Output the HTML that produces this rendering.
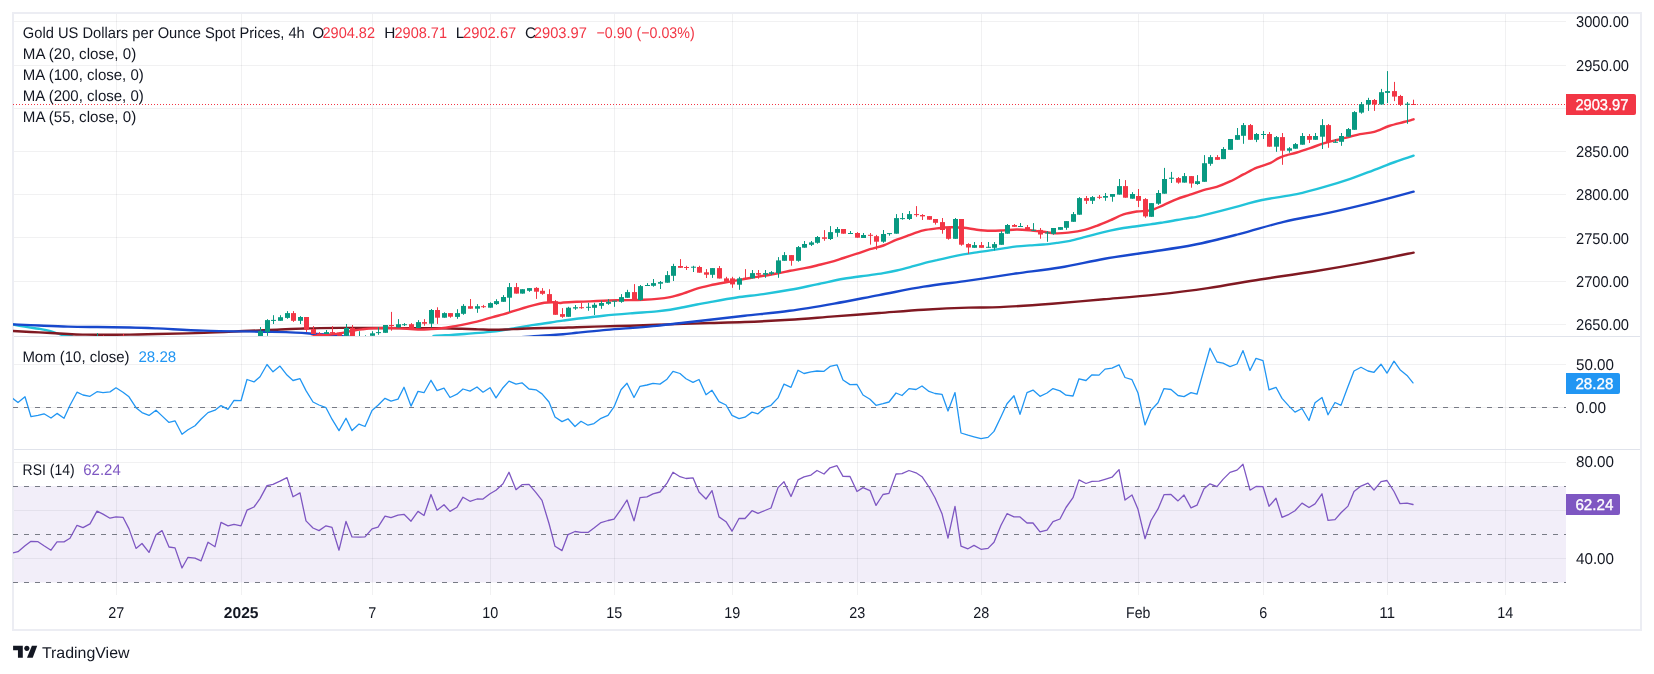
<!DOCTYPE html>
<html><head><meta charset="utf-8"><title>Gold 4h</title>
<style>html,body{margin:0;padding:0;background:#fff;}body{width:1654px;height:674px;overflow:hidden;font-family:"Liberation Sans", sans-serif;}svg{display:block;font-family:"Liberation Sans", sans-serif;will-change:transform;}text{font-family:"Liberation Sans", sans-serif;text-rendering:geometricPrecision;}</style>
</head><body>
<svg width="1654" height="674" viewBox="0 0 1654 674">
<rect x="0" y="0" width="1654" height="674" fill="#ffffff"/>
<defs>
<clipPath id="cp1"><rect x="13" y="14" width="1553" height="322"/></clipPath>
<clipPath id="cp2"><rect x="13" y="336.5" width="1553" height="112.5"/></clipPath>
<clipPath id="cp3"><rect x="13" y="450" width="1553" height="145.5"/></clipPath>
</defs>
<rect x="14" y="486" width="1552" height="96.5" fill="#7e57c2" fill-opacity="0.1"/>
<g stroke="rgb(42,46,57)" stroke-opacity="0.065" stroke-width="1" shape-rendering="crispEdges">
<line x1="116.5" y1="14" x2="116.5" y2="595"/>
<line x1="241.5" y1="14" x2="241.5" y2="595"/>
<line x1="372.5" y1="14" x2="372.5" y2="595"/>
<line x1="490.5" y1="14" x2="490.5" y2="595"/>
<line x1="614.5" y1="14" x2="614.5" y2="595"/>
<line x1="732.5" y1="14" x2="732.5" y2="595"/>
<line x1="857.5" y1="14" x2="857.5" y2="595"/>
<line x1="981.5" y1="14" x2="981.5" y2="595"/>
<line x1="1138.5" y1="14" x2="1138.5" y2="595"/>
<line x1="1263.5" y1="14" x2="1263.5" y2="595"/>
<line x1="1387.5" y1="14" x2="1387.5" y2="595"/>
<line x1="1505.5" y1="14" x2="1505.5" y2="595"/>
<line x1="14" y1="21.5" x2="1566" y2="21.5"/>
<line x1="14" y1="65.5" x2="1566" y2="65.5"/>
<line x1="14" y1="108.5" x2="1566" y2="108.5"/>
<line x1="14" y1="151.5" x2="1566" y2="151.5"/>
<line x1="14" y1="194.5" x2="1566" y2="194.5"/>
<line x1="14" y1="237.5" x2="1566" y2="237.5"/>
<line x1="14" y1="281.5" x2="1566" y2="281.5"/>
<line x1="14" y1="324.5" x2="1566" y2="324.5"/>
<line x1="14" y1="364.5" x2="1566" y2="364.5"/>
<line x1="14" y1="407.5" x2="1566" y2="407.5"/>
<line x1="14" y1="462.5" x2="1566" y2="462.5"/>
<line x1="14" y1="510.5" x2="1566" y2="510.5"/>
<line x1="14" y1="558.5" x2="1566" y2="558.5"/>
</g>
<g stroke="#e0e3eb" fill="none" shape-rendering="crispEdges">
<line x1="13" y1="336.5" x2="1641" y2="336.5" stroke-width="1"/>
<line x1="13" y1="449.5" x2="1641" y2="449.5" stroke-width="1"/>
<rect x="13" y="13" width="1628" height="617" stroke-width="2" stroke="#ecedf3"/>
</g>
<g clip-path="url(#cp1)">
<line x1="13" y1="104.5" x2="1566" y2="104.5" stroke="#f23645" stroke-width="1" stroke-dasharray="1 2" shape-rendering="crispEdges"/>
<path d="M13,324.4 C14.9,324.8 20.2,325.9 24.5,326.6 C28.8,327.3 35.4,328.2 39.0,328.8 C42.6,329.4 43.9,329.6 46.3,330.2 C48.7,330.8 51.1,331.4 53.5,332.1 C55.9,332.8 58.4,334.0 60.8,334.6 C63.2,335.2 66.1,335.4 68.0,335.7 C69.9,336.0 70.4,336.1 72.4,336.4 C74.4,336.7 58.7,336.2 80.0,337.6 C101.3,339.0 143.3,344.6 200.0,345.0 C256.7,345.4 381.0,341.5 420.0,340.0 C459.0,338.5 428.7,336.9 434.0,336.0 C439.3,335.1 445.3,335.3 451.7,334.9 C458.1,334.5 465.3,333.9 472.2,333.4 C479.1,332.8 486.0,332.4 492.8,331.6 C499.6,330.8 506.4,329.6 513.3,328.5 C520.1,327.4 527.0,326.0 533.9,324.9 C540.8,323.8 549.6,322.6 554.5,321.9 C559.4,321.2 559.3,321.1 563.0,320.6 C566.7,320.1 570.0,319.6 576.7,318.8 C583.4,318.0 594.5,316.6 603.4,315.7 C612.3,314.8 621.2,314.1 630.1,313.4 C639.0,312.7 650.1,312.0 656.8,311.4 C663.5,310.8 665.8,310.5 670.2,309.8 C674.7,309.1 679.0,308.1 683.5,307.2 C688.0,306.3 692.5,305.4 696.9,304.5 C701.3,303.6 703.4,303.3 710.0,302.1 C716.6,300.9 727.8,298.8 736.7,297.5 C745.6,296.2 754.5,295.4 763.4,294.1 C772.3,292.8 781.2,291.4 790.1,289.8 C799.0,288.2 807.9,286.2 816.8,284.4 C825.7,282.6 834.6,280.4 843.5,278.8 C852.4,277.2 863.4,276.1 870.0,275.1 C876.6,274.2 878.9,273.9 883.4,273.1 C887.9,272.3 892.2,271.5 896.7,270.5 C901.2,269.5 905.7,268.3 910.1,267.1 C914.5,265.9 919.0,264.5 923.4,263.4 C927.8,262.2 932.3,261.2 936.8,260.2 C941.2,259.1 945.6,258.1 950.1,257.1 C954.6,256.1 959.0,255.2 963.5,254.4 C968.0,253.6 972.3,253.1 976.8,252.4 C981.2,251.7 985.8,251.1 990.2,250.4 C994.7,249.7 999.0,249.1 1003.5,248.4 C1008.0,247.7 1012.5,246.9 1016.9,246.4 C1021.3,245.9 1025.6,245.7 1030.0,245.4 C1034.4,245.1 1039.0,244.9 1043.4,244.5 C1047.9,244.1 1052.2,243.5 1056.7,242.9 C1061.2,242.3 1065.6,241.8 1070.1,240.9 C1074.5,240.0 1079.0,238.6 1083.4,237.4 C1087.9,236.2 1092.3,234.9 1096.8,233.8 C1101.2,232.7 1105.6,231.7 1110.1,230.7 C1114.5,229.7 1119.0,228.8 1123.5,228.0 C1128.0,227.2 1132.3,226.8 1136.8,226.2 C1141.2,225.6 1145.8,225.0 1150.2,224.4 C1154.7,223.8 1159.0,223.1 1163.5,222.4 C1168.0,221.7 1172.5,220.8 1176.9,220.0 C1181.4,219.2 1186.4,218.5 1190.2,217.8 C1194.0,217.2 1191.9,218.1 1200.0,216.1 C1208.1,214.1 1228.7,208.8 1239.0,206.1 C1249.3,203.4 1252.4,202.0 1262.0,200.0 C1271.6,198.0 1286.5,196.2 1296.8,194.1 C1307.0,192.0 1314.6,189.8 1323.5,187.2 C1332.4,184.6 1342.0,181.6 1350.3,178.8 C1358.6,176.0 1365.8,173.1 1373.2,170.3 C1380.7,167.5 1388.3,164.4 1395.0,162.0 C1401.7,159.6 1410.5,156.8 1413.6,155.7" fill="none" stroke="#22c3d9" stroke-width="2.4" stroke-linecap="round" stroke-linejoin="round"/>
<path d="M13,331 C17.3,331.2 29.8,331.9 39.0,332.4 C48.2,332.9 60.7,333.6 68.0,334.0 C75.3,334.4 77.8,334.5 82.6,334.6 C87.4,334.7 89.1,334.8 97.0,334.8 C104.9,334.8 120.0,334.7 130.0,334.6 C140.0,334.5 144.7,334.3 157.0,334.0 C169.3,333.7 188.5,333.4 204.0,332.9 C219.5,332.4 237.8,331.3 250.0,330.8 C262.2,330.3 268.0,330.1 277.0,329.7 C286.0,329.3 293.4,328.8 304.0,328.5 C314.6,328.2 329.3,328.0 340.7,327.9 C352.1,327.8 362.5,328.0 372.4,328.0 C382.3,328.0 388.5,328.1 400.0,328.1 C411.5,328.2 431.1,328.2 441.4,328.3 C451.7,328.4 455.9,328.6 462.0,328.8 C468.1,329.0 472.9,329.2 478.0,329.4 C483.1,329.5 488.3,329.7 492.8,329.7 C497.3,329.7 501.6,329.6 505.0,329.5 C508.4,329.4 508.5,329.3 513.3,329.1 C518.1,328.9 526.1,328.5 533.9,328.3 C541.7,328.1 552.9,328.0 560.0,327.8 C567.1,327.6 569.5,327.4 576.7,327.2 C583.9,327.0 594.5,326.6 603.4,326.4 C612.3,326.1 621.2,326.0 630.1,325.7 C639.0,325.4 647.9,325.1 656.8,324.8 C665.7,324.5 674.6,324.2 683.5,323.9 C692.4,323.6 699.8,323.3 710.0,323.0 C720.2,322.7 731.5,322.5 744.7,322.0 C758.0,321.5 774.6,320.7 789.5,319.8 C804.4,318.9 819.3,317.5 834.2,316.4 C849.1,315.3 864.1,314.1 879.0,313.0 C893.9,311.9 908.8,310.6 923.7,309.7 C938.6,308.8 955.8,308.0 968.5,307.6 C981.2,307.2 986.1,307.8 1000.0,307.1 C1013.9,306.5 1034.7,305.0 1052.0,303.7 C1069.3,302.4 1086.7,300.8 1104.0,299.3 C1121.3,297.8 1138.7,296.5 1156.0,294.6 C1173.3,292.7 1190.7,290.6 1208.0,288.1 C1225.3,285.6 1242.7,282.2 1260.0,279.5 C1277.3,276.8 1294.7,274.5 1312.0,271.7 C1329.3,268.9 1347.1,265.8 1364.0,262.6 C1380.9,259.4 1405.3,254.3 1413.6,252.6" fill="none" stroke="#801922" stroke-width="2.4" stroke-linecap="round" stroke-linejoin="round"/>
<path d="M13,324.4 C17.3,324.6 29.8,325.1 39.0,325.5 C48.2,325.9 58.3,326.4 68.0,326.6 C77.7,326.9 86.7,326.9 97.0,327.0 C107.3,327.1 120.0,327.3 130.0,327.5 C140.0,327.7 144.7,327.9 157.0,328.4 C169.3,328.9 186.8,330.1 204.0,330.6 C221.2,331.2 246.3,331.4 260.0,331.7 C273.7,331.9 277.1,331.8 286.0,332.1 C294.9,332.4 305.9,333.2 313.5,333.7 C321.1,334.2 327.1,334.6 331.6,334.9 C336.1,335.2 337.3,335.1 340.7,335.5 C344.1,335.9 335.4,336.1 352.0,337.0 C368.6,337.9 415.3,340.7 440.0,341.0 C464.7,341.3 486.7,339.6 500.0,339.0 C513.3,338.4 514.3,337.8 520.0,337.3 C525.7,336.8 529.0,336.6 534.0,336.2 C539.0,335.8 545.2,335.5 550.0,335.2 C554.8,334.9 558.5,334.6 563.0,334.2 C567.5,333.8 570.0,333.5 576.7,332.8 C583.4,332.1 594.5,330.9 603.4,330.1 C612.3,329.3 621.2,328.8 630.1,328.1 C639.0,327.4 647.9,326.8 656.8,325.9 C665.7,325.0 674.6,323.8 683.5,322.8 C692.4,321.8 699.8,321.0 710.0,319.8 C720.2,318.6 731.5,317.2 744.7,315.7 C758.0,314.2 774.6,312.8 789.5,310.8 C804.4,308.8 819.3,306.2 834.2,303.6 C849.1,301.0 864.1,297.9 879.0,295.1 C893.9,292.3 908.8,289.0 923.7,286.6 C938.6,284.2 953.6,282.7 968.5,280.6 C983.4,278.5 998.0,276.1 1013.2,273.9 C1028.5,271.7 1044.8,270.0 1060.0,267.5 C1075.2,265.0 1089.8,261.3 1104.7,258.7 C1119.6,256.1 1134.6,254.3 1149.5,252.0 C1164.4,249.7 1179.3,247.8 1194.2,244.8 C1209.1,241.8 1224.1,237.9 1239.0,234.1 C1253.9,230.3 1268.8,225.4 1283.7,221.8 C1298.6,218.2 1313.6,216.1 1328.5,212.8 C1343.4,209.6 1359.0,205.8 1373.2,202.3 C1387.4,198.8 1406.9,193.4 1413.6,191.6" fill="none" stroke="#1848cc" stroke-width="2.4" stroke-linecap="round" stroke-linejoin="round"/>
<path d="M308,338 C309.3,337.6 313.3,336.1 316.0,335.6 C318.7,335.1 321.3,335.4 324.0,335.2 C326.7,335.0 328.9,334.8 332.0,334.4 C335.1,334.0 339.0,333.5 342.5,332.9 C346.0,332.3 349.6,331.4 352.8,330.8 C356.1,330.2 358.6,329.8 362.0,329.4 C365.4,329.0 368.5,328.6 373.0,328.4 C377.5,328.2 384.5,328.0 389.0,328.0 C393.5,328.0 396.4,328.2 400.0,328.4 C403.6,328.6 407.1,328.8 410.6,329.0 C414.1,329.2 417.4,329.6 420.8,329.6 C424.2,329.6 427.7,329.3 431.1,329.1 C434.5,328.9 438.0,328.7 441.4,328.3 C444.8,327.9 448.3,327.3 451.7,326.7 C455.1,326.1 458.6,325.6 462.0,324.9 C465.4,324.2 468.8,323.5 472.2,322.7 C475.6,321.9 479.1,321.0 482.5,320.1 C485.9,319.2 489.4,318.2 492.8,317.2 C496.2,316.2 499.7,315.3 503.1,314.3 C506.5,313.3 509.9,312.2 513.3,311.1 C516.7,310.1 520.2,309.0 523.6,308.0 C527.0,307.0 530.5,306.0 533.9,305.1 C537.3,304.2 541.2,303.3 544.2,302.8 C547.2,302.3 549.4,302.2 552.0,302.2 C554.6,302.2 558.1,302.9 560.0,303.0 C561.9,303.1 560.6,302.7 563.4,302.5 C566.2,302.3 572.2,302.0 576.7,301.8 C581.2,301.6 585.7,301.6 590.1,301.4 C594.5,301.2 599.0,300.9 603.4,300.7 C607.8,300.5 612.3,300.4 616.8,300.3 C621.2,300.2 625.6,300.2 630.1,300.1 C634.6,300.0 639.0,299.9 643.5,299.7 C648.0,299.5 652.3,299.3 656.8,298.9 C661.2,298.5 665.8,298.0 670.2,297.1 C674.7,296.2 679.0,294.8 683.5,293.4 C688.0,292.0 692.5,290.0 696.9,288.7 C701.3,287.4 705.6,286.4 710.0,285.4 C714.4,284.4 718.9,283.6 723.4,282.8 C727.9,282.0 732.2,281.2 736.7,280.4 C741.2,279.6 745.7,278.8 750.1,278.0 C754.5,277.2 759.0,276.6 763.4,275.8 C767.8,275.1 772.3,274.3 776.8,273.5 C781.2,272.7 785.6,271.7 790.1,270.8 C794.6,269.9 799.0,269.3 803.5,268.4 C808.0,267.5 812.3,266.6 816.8,265.5 C821.2,264.4 825.8,263.4 830.2,262.1 C834.7,260.9 839.0,259.4 843.5,258.0 C848.0,256.6 852.5,255.2 856.9,253.7 C861.3,252.2 865.6,250.6 870.0,249.2 C874.4,247.8 878.9,247.1 883.4,245.5 C887.9,243.9 892.2,241.5 896.7,239.7 C901.2,237.9 905.7,236.4 910.1,234.8 C914.5,233.2 919.0,231.5 923.4,230.4 C927.8,229.3 932.3,228.9 936.8,228.4 C941.2,227.9 945.6,227.4 950.1,227.3 C954.6,227.2 959.0,227.3 963.5,227.7 C968.0,228.1 972.3,229.2 976.8,229.7 C981.2,230.2 985.8,230.7 990.2,230.8 C994.7,230.9 999.0,230.6 1003.5,230.4 C1008.0,230.2 1012.5,229.5 1016.9,229.5 C1021.3,229.5 1025.6,229.9 1030.0,230.3 C1034.4,230.7 1039.0,231.3 1043.4,231.8 C1047.9,232.3 1052.2,233.3 1056.7,233.4 C1061.2,233.5 1065.6,232.9 1070.1,232.4 C1074.5,231.9 1079.0,231.3 1083.4,230.2 C1087.9,229.1 1092.3,227.4 1096.8,225.8 C1101.2,224.2 1105.6,222.3 1110.1,220.4 C1114.5,218.5 1119.0,215.9 1123.5,214.4 C1128.0,212.9 1132.3,212.2 1136.8,211.5 C1141.2,210.8 1145.8,211.5 1150.2,210.4 C1154.7,209.3 1159.0,207.0 1163.5,205.1 C1168.0,203.2 1172.5,200.8 1176.9,199.1 C1181.3,197.4 1185.6,196.2 1190.0,194.7 C1194.4,193.2 1199.0,191.4 1203.4,190.1 C1207.9,188.8 1212.2,188.2 1216.7,186.8 C1221.2,185.4 1225.6,183.5 1230.1,181.4 C1234.5,179.3 1239.0,176.7 1243.4,174.4 C1247.9,172.1 1252.3,169.6 1256.8,167.7 C1261.2,165.8 1266.8,164.6 1270.1,163.2 C1273.4,161.8 1274.6,160.3 1276.8,159.1 C1279.0,157.9 1280.2,157.2 1283.5,156.1 C1286.8,155.0 1292.3,153.8 1296.8,152.5 C1301.2,151.2 1305.8,149.6 1310.2,148.1 C1314.7,146.6 1319.0,144.8 1323.5,143.4 C1328.0,142.1 1332.4,141.1 1336.9,140.0 C1341.4,138.9 1346.5,137.7 1350.3,136.7 C1354.1,135.7 1356.0,134.9 1360.0,134.1 C1364.0,133.3 1369.4,133.2 1374.2,131.9 C1379.0,130.6 1384.1,127.7 1389.0,126.0 C1393.9,124.3 1399.7,123.1 1403.8,122.0 C1407.9,120.9 1412.0,119.8 1413.6,119.3" fill="none" stroke="#f23645" stroke-width="2.4" stroke-linecap="round" stroke-linejoin="round"/>
<rect x="97" y="333.1" width="1" height="4.9" fill="#089981"/>
<rect x="95" y="337.0" width="5" height="1.0" fill="#089981"/>
<rect x="103" y="335.3" width="1" height="2.7" fill="#f23645"/>
<rect x="101" y="337.0" width="5" height="1.0" fill="#f23645"/>
<rect x="123" y="334.0" width="1" height="4.0" fill="#f23645"/>
<rect x="121" y="337.0" width="5" height="1.0" fill="#f23645"/>
<rect x="260" y="327.1" width="1" height="9.9" fill="#089981"/>
<rect x="258" y="331.2" width="5" height="5.8" fill="#089981"/>
<rect x="267" y="319.2" width="1" height="16.6" fill="#089981"/>
<rect x="265" y="320.1" width="5" height="11.8" fill="#089981"/>
<rect x="273" y="315.2" width="1" height="8.8" fill="#089981"/>
<rect x="271" y="319.9" width="5" height="1.0" fill="#089981"/>
<rect x="280" y="315.2" width="1" height="5.6" fill="#089981"/>
<rect x="278" y="317.2" width="5" height="3.6" fill="#089981"/>
<rect x="287" y="311.1" width="1" height="7.7" fill="#089981"/>
<rect x="285" y="313.1" width="5" height="4.8" fill="#089981"/>
<rect x="293" y="311.1" width="1" height="10.8" fill="#f23645"/>
<rect x="291" y="313.1" width="5" height="7.7" fill="#f23645"/>
<rect x="300" y="316.1" width="1" height="7.9" fill="#089981"/>
<rect x="298" y="317.0" width="5" height="3.8" fill="#089981"/>
<rect x="306" y="317.0" width="1" height="14.9" fill="#f23645"/>
<rect x="304" y="317.0" width="5" height="12.7" fill="#f23645"/>
<rect x="313" y="326.1" width="1" height="7.9" fill="#f23645"/>
<rect x="311" y="329.0" width="5" height="5.0" fill="#f23645"/>
<rect x="319" y="332.1" width="1" height="3.4" fill="#f23645"/>
<rect x="317" y="333.5" width="5" height="2.0" fill="#f23645"/>
<rect x="326" y="330.0" width="1" height="4.0" fill="#089981"/>
<rect x="324" y="332.1" width="5" height="1.9" fill="#089981"/>
<rect x="332" y="326.1" width="1" height="8.9" fill="#f23645"/>
<rect x="330" y="332.1" width="5" height="1.4" fill="#f23645"/>
<rect x="339" y="332.6" width="1" height="3.2" fill="#f23645"/>
<rect x="337" y="332.6" width="5" height="3.2" fill="#f23645"/>
<rect x="346" y="324.0" width="1" height="11.8" fill="#089981"/>
<rect x="344" y="328.0" width="5" height="7.8" fill="#089981"/>
<rect x="352" y="325.0" width="1" height="11.2" fill="#f23645"/>
<rect x="350" y="328.0" width="5" height="8.2" fill="#f23645"/>
<rect x="359" y="331.2" width="1" height="6.8" fill="#089981"/>
<rect x="357" y="336.5" width="5" height="1.5" fill="#089981"/>
<rect x="365" y="335.3" width="1" height="2.7" fill="#089981"/>
<rect x="363" y="336.5" width="5" height="1.5" fill="#089981"/>
<rect x="372" y="331.2" width="1" height="4.6" fill="#089981"/>
<rect x="370" y="333.3" width="5" height="2.5" fill="#089981"/>
<rect x="378" y="327.1" width="1" height="7.7" fill="#089981"/>
<rect x="376" y="332.1" width="5" height="1.0" fill="#089981"/>
<rect x="385" y="325.0" width="1" height="7.8" fill="#089981"/>
<rect x="383" y="325.0" width="5" height="7.8" fill="#089981"/>
<rect x="391" y="311.9" width="1" height="18.8" fill="#f23645"/>
<rect x="389" y="325.0" width="5" height="1.0" fill="#f23645"/>
<rect x="398" y="319.1" width="1" height="8.3" fill="#089981"/>
<rect x="396" y="324.2" width="5" height="3.2" fill="#089981"/>
<rect x="404" y="323.1" width="1" height="2.9" fill="#089981"/>
<rect x="402" y="324.2" width="5" height="1.0" fill="#089981"/>
<rect x="411" y="323.1" width="1" height="5.2" fill="#f23645"/>
<rect x="409" y="324.2" width="5" height="4.1" fill="#f23645"/>
<rect x="418" y="320.1" width="1" height="7.9" fill="#089981"/>
<rect x="416" y="322.1" width="5" height="5.9" fill="#089981"/>
<rect x="424" y="319.1" width="1" height="6.6" fill="#f23645"/>
<rect x="422" y="322.1" width="5" height="1.6" fill="#f23645"/>
<rect x="431" y="309.0" width="1" height="18.5" fill="#089981"/>
<rect x="429" y="310.0" width="5" height="13.7" fill="#089981"/>
<rect x="437" y="307.3" width="1" height="16.6" fill="#f23645"/>
<rect x="435" y="310.0" width="5" height="7.7" fill="#f23645"/>
<rect x="444" y="312.3" width="1" height="5.4" fill="#089981"/>
<rect x="442" y="313.1" width="5" height="4.6" fill="#089981"/>
<rect x="450" y="313.1" width="1" height="4.6" fill="#f23645"/>
<rect x="448" y="313.1" width="5" height="3.6" fill="#f23645"/>
<rect x="457" y="309.2" width="1" height="9.6" fill="#089981"/>
<rect x="455" y="313.1" width="5" height="3.8" fill="#089981"/>
<rect x="463" y="304.1" width="1" height="10.7" fill="#089981"/>
<rect x="461" y="305.9" width="5" height="7.9" fill="#089981"/>
<rect x="470" y="299.0" width="1" height="9.7" fill="#f23645"/>
<rect x="468" y="306.2" width="5" height="2.5" fill="#f23645"/>
<rect x="477" y="304.1" width="1" height="8.7" fill="#089981"/>
<rect x="475" y="306.2" width="5" height="2.5" fill="#089981"/>
<rect x="483" y="304.9" width="1" height="3.1" fill="#f23645"/>
<rect x="481" y="306.2" width="5" height="1.0" fill="#f23645"/>
<rect x="490" y="302.3" width="1" height="5.4" fill="#089981"/>
<rect x="488" y="303.1" width="5" height="4.6" fill="#089981"/>
<rect x="496" y="299.2" width="1" height="5.7" fill="#089981"/>
<rect x="494" y="301.1" width="5" height="3.0" fill="#089981"/>
<rect x="503" y="295.1" width="1" height="6.7" fill="#089981"/>
<rect x="501" y="297.0" width="5" height="4.8" fill="#089981"/>
<rect x="509" y="283.0" width="1" height="28.9" fill="#089981"/>
<rect x="507" y="287.1" width="5" height="10.6" fill="#089981"/>
<rect x="516" y="283.0" width="1" height="10.6" fill="#f23645"/>
<rect x="514" y="287.1" width="5" height="6.5" fill="#f23645"/>
<rect x="522" y="289.2" width="1" height="4.4" fill="#089981"/>
<rect x="520" y="289.2" width="5" height="4.4" fill="#089981"/>
<rect x="529" y="288.1" width="1" height="3.7" fill="#089981"/>
<rect x="527" y="288.1" width="5" height="2.7" fill="#089981"/>
<rect x="536" y="287.1" width="1" height="11.8" fill="#f23645"/>
<rect x="534" y="287.9" width="5" height="3.8" fill="#f23645"/>
<rect x="542" y="288.1" width="1" height="6.7" fill="#f23645"/>
<rect x="540" y="290.8" width="5" height="3.0" fill="#f23645"/>
<rect x="549" y="289.2" width="1" height="13.1" fill="#f23645"/>
<rect x="547" y="294.1" width="5" height="8.2" fill="#f23645"/>
<rect x="555" y="300.1" width="1" height="14.7" fill="#f23645"/>
<rect x="553" y="301.3" width="5" height="13.5" fill="#f23645"/>
<rect x="562" y="308.1" width="1" height="9.7" fill="#f23645"/>
<rect x="560" y="314.1" width="5" height="2.7" fill="#f23645"/>
<rect x="568" y="306.8" width="1" height="10.0" fill="#089981"/>
<rect x="566" y="307.7" width="5" height="9.1" fill="#089981"/>
<rect x="575" y="305.0" width="1" height="4.8" fill="#089981"/>
<rect x="573" y="307.2" width="5" height="1.3" fill="#089981"/>
<rect x="581" y="302.8" width="1" height="6.0" fill="#f23645"/>
<rect x="579" y="307.2" width="5" height="1.0" fill="#f23645"/>
<rect x="588" y="302.8" width="1" height="8.0" fill="#089981"/>
<rect x="586" y="306.8" width="5" height="1.0" fill="#089981"/>
<rect x="594" y="302.8" width="1" height="12.2" fill="#089981"/>
<rect x="592" y="304.8" width="5" height="3.0" fill="#089981"/>
<rect x="601" y="300.7" width="1" height="8.1" fill="#089981"/>
<rect x="599" y="303.0" width="5" height="2.8" fill="#089981"/>
<rect x="608" y="299.1" width="1" height="5.7" fill="#089981"/>
<rect x="606" y="301.8" width="5" height="2.0" fill="#089981"/>
<rect x="614" y="300.7" width="1" height="6.1" fill="#089981"/>
<rect x="612" y="300.7" width="5" height="1.0" fill="#089981"/>
<rect x="621" y="294.1" width="1" height="8.7" fill="#089981"/>
<rect x="619" y="297.1" width="5" height="4.7" fill="#089981"/>
<rect x="627" y="289.8" width="1" height="8.0" fill="#089981"/>
<rect x="625" y="292.1" width="5" height="5.7" fill="#089981"/>
<rect x="634" y="284.1" width="1" height="16.0" fill="#f23645"/>
<rect x="632" y="292.1" width="5" height="8.0" fill="#f23645"/>
<rect x="640" y="285.0" width="1" height="15.7" fill="#089981"/>
<rect x="638" y="286.1" width="5" height="14.0" fill="#089981"/>
<rect x="647" y="283.1" width="1" height="2.8" fill="#089981"/>
<rect x="645" y="285.0" width="5" height="1.0" fill="#089981"/>
<rect x="653" y="279.0" width="1" height="7.7" fill="#089981"/>
<rect x="651" y="283.1" width="5" height="2.7" fill="#089981"/>
<rect x="660" y="281.0" width="1" height="8.0" fill="#089981"/>
<rect x="658" y="282.1" width="5" height="1.6" fill="#089981"/>
<rect x="667" y="271.1" width="1" height="11.6" fill="#089981"/>
<rect x="665" y="275.1" width="5" height="7.6" fill="#089981"/>
<rect x="673" y="263.8" width="1" height="17.2" fill="#089981"/>
<rect x="671" y="266.0" width="5" height="9.8" fill="#089981"/>
<rect x="680" y="259.1" width="1" height="8.7" fill="#f23645"/>
<rect x="678" y="266.0" width="5" height="1.8" fill="#f23645"/>
<rect x="686" y="265.8" width="1" height="4.2" fill="#f23645"/>
<rect x="684" y="267.0" width="5" height="1.0" fill="#f23645"/>
<rect x="693" y="265.8" width="1" height="6.2" fill="#089981"/>
<rect x="691" y="266.7" width="5" height="1.0" fill="#089981"/>
<rect x="699" y="265.8" width="1" height="6.9" fill="#f23645"/>
<rect x="697" y="267.0" width="5" height="5.7" fill="#f23645"/>
<rect x="706" y="269.1" width="1" height="8.9" fill="#f23645"/>
<rect x="704" y="272.3" width="5" height="2.4" fill="#f23645"/>
<rect x="712" y="268.1" width="1" height="9.8" fill="#089981"/>
<rect x="710" y="268.1" width="5" height="6.7" fill="#089981"/>
<rect x="719" y="266.0" width="1" height="12.5" fill="#f23645"/>
<rect x="717" y="268.1" width="5" height="10.4" fill="#f23645"/>
<rect x="726" y="276.8" width="1" height="5.0" fill="#f23645"/>
<rect x="724" y="278.4" width="5" height="3.4" fill="#f23645"/>
<rect x="732" y="276.8" width="1" height="11.0" fill="#f23645"/>
<rect x="730" y="278.4" width="5" height="6.0" fill="#f23645"/>
<rect x="739" y="276.8" width="1" height="13.0" fill="#089981"/>
<rect x="737" y="278.4" width="5" height="6.3" fill="#089981"/>
<rect x="745" y="269.1" width="1" height="9.7" fill="#f23645"/>
<rect x="743" y="277.8" width="5" height="1.0" fill="#f23645"/>
<rect x="752" y="270.0" width="1" height="8.4" fill="#089981"/>
<rect x="750" y="273.1" width="5" height="5.3" fill="#089981"/>
<rect x="758" y="270.0" width="1" height="8.7" fill="#f23645"/>
<rect x="756" y="273.1" width="5" height="1.6" fill="#f23645"/>
<rect x="765" y="270.0" width="1" height="7.8" fill="#089981"/>
<rect x="763" y="273.1" width="5" height="1.6" fill="#089981"/>
<rect x="771" y="271.1" width="1" height="4.0" fill="#089981"/>
<rect x="769" y="272.2" width="5" height="1.6" fill="#089981"/>
<rect x="778" y="257.1" width="1" height="20.7" fill="#089981"/>
<rect x="776" y="260.4" width="5" height="12.7" fill="#089981"/>
<rect x="784" y="252.1" width="1" height="8.7" fill="#089981"/>
<rect x="782" y="255.1" width="5" height="5.7" fill="#089981"/>
<rect x="791" y="255.1" width="1" height="10.6" fill="#f23645"/>
<rect x="789" y="255.1" width="5" height="5.7" fill="#f23645"/>
<rect x="798" y="246.0" width="1" height="15.7" fill="#089981"/>
<rect x="796" y="247.1" width="5" height="13.7" fill="#089981"/>
<rect x="804" y="241.0" width="1" height="6.7" fill="#089981"/>
<rect x="802" y="244.0" width="5" height="3.7" fill="#089981"/>
<rect x="811" y="241.0" width="1" height="5.0" fill="#089981"/>
<rect x="809" y="242.4" width="5" height="2.4" fill="#089981"/>
<rect x="817" y="236.0" width="1" height="7.7" fill="#089981"/>
<rect x="815" y="237.0" width="5" height="5.8" fill="#089981"/>
<rect x="824" y="230.1" width="1" height="10.7" fill="#f23645"/>
<rect x="822" y="237.3" width="5" height="1.5" fill="#f23645"/>
<rect x="830" y="226.1" width="1" height="13.9" fill="#089981"/>
<rect x="828" y="232.1" width="5" height="6.9" fill="#089981"/>
<rect x="837" y="227.0" width="1" height="9.8" fill="#089981"/>
<rect x="835" y="229.0" width="5" height="3.8" fill="#089981"/>
<rect x="843" y="229.0" width="1" height="4.7" fill="#f23645"/>
<rect x="841" y="229.0" width="5" height="4.7" fill="#f23645"/>
<rect x="850" y="231.0" width="1" height="3.0" fill="#089981"/>
<rect x="848" y="233.0" width="5" height="1.0" fill="#089981"/>
<rect x="857" y="232.1" width="1" height="5.6" fill="#f23645"/>
<rect x="855" y="233.0" width="5" height="4.7" fill="#f23645"/>
<rect x="863" y="233.0" width="1" height="5.0" fill="#089981"/>
<rect x="861" y="235.0" width="5" height="3.0" fill="#089981"/>
<rect x="870" y="233.0" width="1" height="11.6" fill="#f23645"/>
<rect x="868" y="234.8" width="5" height="1.0" fill="#f23645"/>
<rect x="876" y="234.9" width="1" height="14.9" fill="#f23645"/>
<rect x="874" y="236.2" width="5" height="5.5" fill="#f23645"/>
<rect x="883" y="230.0" width="1" height="12.8" fill="#089981"/>
<rect x="881" y="234.0" width="5" height="7.7" fill="#089981"/>
<rect x="889" y="233.1" width="1" height="2.6" fill="#089981"/>
<rect x="887" y="233.1" width="5" height="1.0" fill="#089981"/>
<rect x="896" y="214.1" width="1" height="19.6" fill="#089981"/>
<rect x="894" y="218.1" width="5" height="15.6" fill="#089981"/>
<rect x="902" y="213.0" width="1" height="6.7" fill="#089981"/>
<rect x="900" y="218.1" width="5" height="1.0" fill="#089981"/>
<rect x="909" y="211.0" width="1" height="9.0" fill="#089981"/>
<rect x="907" y="214.1" width="5" height="4.9" fill="#089981"/>
<rect x="916" y="206.1" width="1" height="10.7" fill="#f23645"/>
<rect x="914" y="214.1" width="5" height="1.0" fill="#f23645"/>
<rect x="922" y="214.1" width="1" height="5.9" fill="#f23645"/>
<rect x="920" y="215.0" width="5" height="1.4" fill="#f23645"/>
<rect x="929" y="216.1" width="1" height="3.6" fill="#f23645"/>
<rect x="927" y="216.1" width="5" height="3.6" fill="#f23645"/>
<rect x="935" y="219.0" width="1" height="5.6" fill="#f23645"/>
<rect x="933" y="219.0" width="5" height="3.8" fill="#f23645"/>
<rect x="942" y="218.0" width="1" height="15.7" fill="#f23645"/>
<rect x="940" y="222.1" width="5" height="7.9" fill="#f23645"/>
<rect x="948" y="227.7" width="1" height="12.0" fill="#f23645"/>
<rect x="946" y="227.7" width="5" height="11.1" fill="#f23645"/>
<rect x="955" y="218.0" width="1" height="20.8" fill="#089981"/>
<rect x="953" y="219.0" width="5" height="19.8" fill="#089981"/>
<rect x="961" y="219.0" width="1" height="26.7" fill="#f23645"/>
<rect x="959" y="219.0" width="5" height="25.7" fill="#f23645"/>
<rect x="968" y="243.2" width="1" height="10.6" fill="#f23645"/>
<rect x="966" y="244.0" width="5" height="3.5" fill="#f23645"/>
<rect x="974" y="242.0" width="1" height="5.8" fill="#089981"/>
<rect x="972" y="245.1" width="5" height="2.7" fill="#089981"/>
<rect x="981" y="242.0" width="1" height="5.8" fill="#f23645"/>
<rect x="979" y="245.1" width="5" height="2.7" fill="#f23645"/>
<rect x="988" y="242.0" width="1" height="5.8" fill="#089981"/>
<rect x="986" y="246.8" width="5" height="1.0" fill="#089981"/>
<rect x="994" y="242.0" width="1" height="8.4" fill="#089981"/>
<rect x="992" y="244.1" width="5" height="3.7" fill="#089981"/>
<rect x="1001" y="231.1" width="1" height="13.7" fill="#089981"/>
<rect x="999" y="233.1" width="5" height="11.7" fill="#089981"/>
<rect x="1007" y="224.0" width="1" height="9.7" fill="#089981"/>
<rect x="1005" y="225.0" width="5" height="8.7" fill="#089981"/>
<rect x="1014" y="224.0" width="1" height="2.8" fill="#f23645"/>
<rect x="1012" y="225.0" width="5" height="1.8" fill="#f23645"/>
<rect x="1020" y="223.0" width="1" height="3.9" fill="#089981"/>
<rect x="1018" y="226.0" width="5" height="1.0" fill="#089981"/>
<rect x="1027" y="225.0" width="1" height="5.4" fill="#f23645"/>
<rect x="1025" y="227.1" width="5" height="3.3" fill="#f23645"/>
<rect x="1033" y="223.1" width="1" height="7.6" fill="#089981"/>
<rect x="1031" y="229.8" width="5" height="1.0" fill="#089981"/>
<rect x="1040" y="228.0" width="1" height="10.7" fill="#f23645"/>
<rect x="1038" y="229.9" width="5" height="4.6" fill="#f23645"/>
<rect x="1047" y="231.1" width="1" height="10.7" fill="#089981"/>
<rect x="1045" y="232.4" width="5" height="1.1" fill="#089981"/>
<rect x="1053" y="228.0" width="1" height="6.7" fill="#089981"/>
<rect x="1051" y="228.0" width="5" height="5.8" fill="#089981"/>
<rect x="1060" y="227.1" width="1" height="2.7" fill="#089981"/>
<rect x="1058" y="227.1" width="5" height="2.7" fill="#089981"/>
<rect x="1066" y="221.1" width="1" height="8.7" fill="#089981"/>
<rect x="1064" y="221.1" width="5" height="6.7" fill="#089981"/>
<rect x="1073" y="212.0" width="1" height="9.8" fill="#089981"/>
<rect x="1071" y="214.1" width="5" height="7.7" fill="#089981"/>
<rect x="1079" y="197.1" width="1" height="17.6" fill="#089981"/>
<rect x="1077" y="198.1" width="5" height="16.6" fill="#089981"/>
<rect x="1086" y="196.0" width="1" height="8.0" fill="#f23645"/>
<rect x="1084" y="198.1" width="5" height="2.7" fill="#f23645"/>
<rect x="1092" y="196.0" width="1" height="8.0" fill="#089981"/>
<rect x="1090" y="197.1" width="5" height="3.7" fill="#089981"/>
<rect x="1099" y="195.0" width="1" height="4.1" fill="#f23645"/>
<rect x="1097" y="196.8" width="5" height="1.0" fill="#f23645"/>
<rect x="1105" y="193.0" width="1" height="7.8" fill="#089981"/>
<rect x="1103" y="196.0" width="5" height="1.7" fill="#089981"/>
<rect x="1112" y="194.0" width="1" height="7.7" fill="#089981"/>
<rect x="1110" y="194.0" width="5" height="2.8" fill="#089981"/>
<rect x="1119" y="179.0" width="1" height="15.6" fill="#089981"/>
<rect x="1117" y="186.1" width="5" height="8.5" fill="#089981"/>
<rect x="1125" y="180.1" width="1" height="17.6" fill="#f23645"/>
<rect x="1123" y="186.1" width="5" height="11.6" fill="#f23645"/>
<rect x="1132" y="192.1" width="1" height="6.6" fill="#089981"/>
<rect x="1130" y="194.0" width="5" height="4.7" fill="#089981"/>
<rect x="1138" y="189.0" width="1" height="18.1" fill="#f23645"/>
<rect x="1136" y="196.0" width="5" height="4.8" fill="#f23645"/>
<rect x="1145" y="198.1" width="1" height="19.7" fill="#f23645"/>
<rect x="1143" y="199.1" width="5" height="17.3" fill="#f23645"/>
<rect x="1151" y="203.1" width="1" height="13.7" fill="#089981"/>
<rect x="1149" y="203.1" width="5" height="13.7" fill="#089981"/>
<rect x="1158" y="190.1" width="1" height="14.7" fill="#089981"/>
<rect x="1156" y="193.0" width="5" height="10.7" fill="#089981"/>
<rect x="1164" y="167.9" width="1" height="25.8" fill="#089981"/>
<rect x="1162" y="179.0" width="5" height="14.7" fill="#089981"/>
<rect x="1171" y="171.9" width="1" height="11.1" fill="#089981"/>
<rect x="1169" y="177.7" width="5" height="1.1" fill="#089981"/>
<rect x="1178" y="177.0" width="1" height="6.7" fill="#f23645"/>
<rect x="1176" y="178.1" width="5" height="4.5" fill="#f23645"/>
<rect x="1184" y="173.0" width="1" height="9.6" fill="#089981"/>
<rect x="1182" y="176.1" width="5" height="6.5" fill="#089981"/>
<rect x="1191" y="176.1" width="1" height="11.6" fill="#f23645"/>
<rect x="1189" y="176.1" width="5" height="7.4" fill="#f23645"/>
<rect x="1197" y="175.1" width="1" height="9.7" fill="#089981"/>
<rect x="1195" y="181.2" width="5" height="2.8" fill="#089981"/>
<rect x="1204" y="155.1" width="1" height="26.7" fill="#089981"/>
<rect x="1202" y="163.2" width="5" height="18.6" fill="#089981"/>
<rect x="1210" y="155.1" width="1" height="10.7" fill="#089981"/>
<rect x="1208" y="157.1" width="5" height="6.7" fill="#089981"/>
<rect x="1217" y="155.1" width="1" height="4.7" fill="#f23645"/>
<rect x="1215" y="157.1" width="5" height="2.7" fill="#f23645"/>
<rect x="1223" y="147.1" width="1" height="12.0" fill="#089981"/>
<rect x="1221" y="149.0" width="5" height="10.1" fill="#089981"/>
<rect x="1230" y="139.0" width="1" height="10.8" fill="#089981"/>
<rect x="1228" y="139.0" width="5" height="10.8" fill="#089981"/>
<rect x="1237" y="128.0" width="1" height="11.8" fill="#089981"/>
<rect x="1235" y="135.1" width="5" height="4.7" fill="#089981"/>
<rect x="1243" y="123.0" width="1" height="20.8" fill="#089981"/>
<rect x="1241" y="125.1" width="5" height="10.7" fill="#089981"/>
<rect x="1250" y="124.0" width="1" height="15.8" fill="#f23645"/>
<rect x="1248" y="125.1" width="5" height="14.7" fill="#f23645"/>
<rect x="1256" y="133.0" width="1" height="9.1" fill="#089981"/>
<rect x="1254" y="134.0" width="5" height="5.8" fill="#089981"/>
<rect x="1263" y="131.0" width="1" height="8.0" fill="#089981"/>
<rect x="1261" y="134.0" width="5" height="1.0" fill="#089981"/>
<rect x="1269" y="132.0" width="1" height="14.7" fill="#f23645"/>
<rect x="1267" y="134.0" width="5" height="12.7" fill="#f23645"/>
<rect x="1276" y="136.0" width="1" height="15.8" fill="#089981"/>
<rect x="1274" y="137.1" width="5" height="9.6" fill="#089981"/>
<rect x="1282" y="133.0" width="1" height="31.8" fill="#f23645"/>
<rect x="1280" y="137.1" width="5" height="13.6" fill="#f23645"/>
<rect x="1289" y="147.1" width="1" height="5.6" fill="#089981"/>
<rect x="1287" y="148.3" width="5" height="2.4" fill="#089981"/>
<rect x="1295" y="143.0" width="1" height="5.7" fill="#089981"/>
<rect x="1293" y="144.1" width="5" height="4.6" fill="#089981"/>
<rect x="1302" y="133.0" width="1" height="11.7" fill="#089981"/>
<rect x="1300" y="136.0" width="5" height="8.7" fill="#089981"/>
<rect x="1309" y="134.0" width="1" height="9.0" fill="#f23645"/>
<rect x="1307" y="136.0" width="5" height="3.8" fill="#f23645"/>
<rect x="1315" y="133.0" width="1" height="6.8" fill="#089981"/>
<rect x="1313" y="136.0" width="5" height="3.8" fill="#089981"/>
<rect x="1322" y="119.1" width="1" height="29.9" fill="#089981"/>
<rect x="1320" y="125.1" width="5" height="11.6" fill="#089981"/>
<rect x="1328" y="124.0" width="1" height="23.8" fill="#f23645"/>
<rect x="1326" y="125.1" width="5" height="17.0" fill="#f23645"/>
<rect x="1335" y="139.1" width="1" height="3.6" fill="#089981"/>
<rect x="1333" y="141.8" width="5" height="1.0" fill="#089981"/>
<rect x="1341" y="133.0" width="1" height="12.8" fill="#089981"/>
<rect x="1339" y="136.0" width="5" height="5.8" fill="#089981"/>
<rect x="1348" y="128.0" width="1" height="8.7" fill="#089981"/>
<rect x="1346" y="129.1" width="5" height="7.6" fill="#089981"/>
<rect x="1354" y="111.1" width="1" height="18.7" fill="#089981"/>
<rect x="1352" y="112.1" width="5" height="17.7" fill="#089981"/>
<rect x="1361" y="102.0" width="1" height="11.7" fill="#089981"/>
<rect x="1359" y="104.2" width="5" height="8.4" fill="#089981"/>
<rect x="1368" y="97.8" width="1" height="13.1" fill="#089981"/>
<rect x="1366" y="100.0" width="5" height="4.5" fill="#089981"/>
<rect x="1374" y="99.0" width="1" height="11.9" fill="#f23645"/>
<rect x="1372" y="100.0" width="5" height="4.5" fill="#f23645"/>
<rect x="1381" y="88.9" width="1" height="15.6" fill="#089981"/>
<rect x="1379" y="92.2" width="5" height="12.3" fill="#089981"/>
<rect x="1387" y="71.1" width="1" height="31.9" fill="#089981"/>
<rect x="1385" y="91.1" width="5" height="1.8" fill="#089981"/>
<rect x="1394" y="81.9" width="1" height="19.2" fill="#f23645"/>
<rect x="1392" y="91.1" width="5" height="5.5" fill="#f23645"/>
<rect x="1400" y="94.9" width="1" height="11.1" fill="#f23645"/>
<rect x="1398" y="96.0" width="5" height="8.9" fill="#f23645"/>
<rect x="1407" y="102.0" width="1" height="21.8" fill="#089981"/>
<rect x="1405" y="103.7" width="5" height="1.1" fill="#089981"/>
<rect x="1413" y="99.7" width="1" height="5.2" fill="#f23645"/>
<rect x="1411" y="104.0" width="5" height="1.0" fill="#f23645"/>
</g>
<g clip-path="url(#cp2)">
<line x1="13" y1="407.5" x2="1566" y2="407.5" stroke="#787b86" stroke-width="1" stroke-dasharray="5 6" shape-rendering="crispEdges"/>
<polyline points="11,397.1 18,402.5 25,396.8 31,416.7 38,415.4 44,413.8 51,418 57,413.4 64,418.3 70,405.3 77,392.2 83,395 90,396.3 97,391.7 103,392.7 110,391.9 116,387.8 123,392.2 129,396.8 136,407.7 142,412.6 149,415.4 156,410.2 162,415.9 169,422.4 175,420.8 182,434.3 188,429.8 195,425.7 201,419.2 208,412.6 215,410.2 221,405.6 228,409.4 234,400.4 241,400.7 247,379.5 254,381.9 260,376.7 267,364.5 273,371.8 280,366.1 287,375.1 293,380.5 300,378.7 306,390.6 313,402 319,405 326,407.7 332,419.2 339,430.6 346,418.3 352,430.6 359,424.1 365,426.5 372,410.5 378,405.3 385,398.3 391,401.2 398,399.1 404,387.3 411,406.1 418,391.4 424,392.7 431,380.3 437,390.6 444,388.1 450,397.5 457,394.2 463,389 470,391.1 477,387 483,392.2 490,387.7 496,397.9 503,387.7 509,381.1 516,384.1 522,382.8 529,389 536,389.8 542,393.9 549,402 555,417 562,421.6 568,418.8 575,426.5 581,421.3 588,425.2 594,423.6 601,418.3 608,415.4 614,406.9 621,389.8 627,383.3 634,397.5 640,386.3 647,385 653,383.3 660,384.1 667,379.2 673,371.3 680,373.5 686,378.7 693,382.4 699,379.5 706,394.7 712,390.3 719,401.7 726,405 732,415.4 739,418.7 745,417.2 752,412.1 758,413.8 765,407.7 771,405.3 778,397.9 784,384.1 791,387.3 798,370.2 804,373.5 811,371.8 817,371 824,371.3 830,366.4 837,364.8 843,380 850,384.6 857,384.5 863,395 870,399.2 876,405.3 883,403.7 889,402 896,393 902,395.5 909,388.6 916,389.5 922,386 929,391.4 935,393.5 942,394.3 948,411 955,392.6 961,433 968,435.2 974,436.8 981,438.7 988,437.4 994,431.4 1001,416.7 1007,403.7 1014,395.8 1020,414.3 1027,392.6 1033,390.1 1040,396.3 1047,393 1053,388.6 1060,390.9 1066,395.2 1073,396 1079,378.8 1086,380.5 1092,374.8 1099,375.1 1105,369.1 1112,368.2 1119,364.8 1125,377.5 1132,379.7 1138,393 1145,424.9 1151,410.2 1158,402.8 1164,388.6 1171,389.5 1178,395.5 1184,396.6 1191,392.6 1197,394.2 1204,369.4 1210,348.2 1217,362 1223,363.2 1230,366.6 1237,364 1243,350.6 1250,370.5 1256,358.4 1263,360.7 1269,389.8 1276,387.3 1282,398.4 1289,406.1 1295,412.1 1302,408.5 1309,420.5 1315,402.8 1322,397.5 1328,414.8 1335,402.5 1341,405.3 1348,386.5 1354,371 1361,367.3 1368,371 1374,372.3 1381,364.2 1387,373.1 1394,361.2 1400,369.7 1407,375.4 1413,382.9" fill="none" stroke="#2196f3" stroke-width="1.3" stroke-linejoin="round" stroke-linecap="round" />
</g>
<g clip-path="url(#cp3)">
<line x1="13" y1="486.5" x2="1566" y2="486.5" stroke="#787b86" stroke-width="1" stroke-dasharray="5 6" shape-rendering="crispEdges"/>
<line x1="13" y1="534.5" x2="1566" y2="534.5" stroke="#787b86" stroke-width="1" stroke-dasharray="5 6" shape-rendering="crispEdges"/>
<line x1="13" y1="582.5" x2="1566" y2="582.5" stroke="#787b86" stroke-width="1" stroke-dasharray="5 6" shape-rendering="crispEdges"/>
<polyline points="11,553.3 18,551.7 25,545.8 31,541.3 38,541.7 44,545.8 51,550.2 57,541.9 64,541.9 70,538.3 77,525.3 83,527.6 90,523.9 97,511.1 103,514.1 110,518.2 116,516.9 123,517.3 129,528.9 136,548.4 142,543.5 149,552.4 156,534.7 162,530.6 169,547 175,547.9 182,568 188,557.3 195,558.2 201,560.9 208,542.2 215,546.7 221,522.3 228,525.8 234,524.4 241,525.8 247,510.2 254,507 260,498.6 267,485.6 273,484.4 280,481.2 287,477.6 293,496.8 300,492.9 306,520.9 313,528 319,530.6 326,525.8 332,527.4 339,550.2 346,521.4 352,536.9 359,537.2 365,536.9 372,528.9 378,527.1 385,516.1 391,517.7 398,515.2 404,514.3 411,521.2 418,511.4 424,515.5 431,494.5 437,510.2 444,504.8 450,511.4 457,507.2 463,497.2 470,501.3 477,499 483,499.1 490,493.8 496,490.2 503,483.8 509,472.3 516,489.7 522,484.7 529,484.4 536,492.7 542,500.4 549,523.5 555,546.3 562,550.6 568,534.6 575,531.5 581,532.4 588,532.4 594,528 601,522.6 608,520.5 614,519.1 621,509.3 627,500 634,520.9 640,497.7 647,496.8 653,493.8 660,492 667,483.1 673,472.3 680,476.7 686,478.5 693,477.8 699,492 706,499 712,490.6 719,516.9 726,521.7 732,531.2 739,518.5 745,518.5 752,510.7 758,513.4 765,510.5 771,508 778,487.6 784,481.7 791,496.5 798,479.9 804,476.9 811,475.1 817,470.5 824,474 830,467.8 837,465.7 843,476.4 850,476.5 857,491.5 863,487.6 870,490.6 876,505.4 883,494.5 889,493.3 896,474 902,473.7 909,470.5 916,472.8 922,476.7 929,487 935,497.7 942,513.7 948,538.1 955,506.3 961,546.1 968,548.8 974,545.4 981,549.3 988,548.4 994,542.2 1001,525.3 1007,513.7 1014,516.9 1020,516.9 1027,523 1033,523 1040,531.9 1047,530.1 1053,521.7 1060,519 1066,507.5 1073,497.7 1079,479.9 1086,483.5 1092,481.3 1099,481.2 1105,479.4 1112,477.2 1119,469.6 1125,500 1132,495 1138,509.3 1145,538.7 1151,520.5 1158,508.9 1164,494.7 1171,494.5 1178,500.9 1184,495 1191,507.9 1197,505.2 1204,488.8 1210,483.8 1217,486.7 1223,479.4 1230,472.4 1237,470.1 1243,464.3 1250,490.2 1256,486.5 1263,486.7 1269,506.3 1276,498.3 1282,517.3 1289,514.3 1295,510.7 1302,503.1 1309,507.5 1315,503.9 1322,493.8 1328,520.3 1335,519.6 1341,512.8 1348,506.1 1354,491.5 1361,486.1 1368,483.1 1374,490.1 1381,481.7 1387,480.5 1394,491.5 1400,503.6 1407,503.1 1413,504.5" fill="none" stroke="#7e57c2" stroke-width="1.3" stroke-linejoin="round" stroke-linecap="round" />
</g>
<text x="22.8" y="37.5" font-size="15.4" fill="#131722" text-anchor="start" font-weight="normal" textLength="282" lengthAdjust="spacingAndGlyphs">Gold US Dollars per Ounce Spot Prices, 4h</text>
<text x="312.3" y="37.5" font-size="15.4" fill="#131722" text-anchor="start" font-weight="normal">O</text>
<text x="322.5" y="37.5" font-size="15.4" fill="#f23645" text-anchor="start" font-weight="normal" textLength="52.5" lengthAdjust="spacingAndGlyphs">2904.82</text>
<text x="384.2" y="37.5" font-size="15.4" fill="#131722" text-anchor="start" font-weight="normal">H</text>
<text x="394.5" y="37.5" font-size="15.4" fill="#f23645" text-anchor="start" font-weight="normal" textLength="52.5" lengthAdjust="spacingAndGlyphs">2908.71</text>
<text x="455.8" y="37.5" font-size="15.4" fill="#131722" text-anchor="start" font-weight="normal">L</text>
<text x="463" y="37.5" font-size="15.4" fill="#f23645" text-anchor="start" font-weight="normal" textLength="53.3" lengthAdjust="spacingAndGlyphs">2902.67</text>
<text x="525" y="37.5" font-size="15.4" fill="#131722" text-anchor="start" font-weight="normal">C</text>
<text x="533.8" y="37.5" font-size="15.4" fill="#f23645" text-anchor="start" font-weight="normal" textLength="53.2" lengthAdjust="spacingAndGlyphs">2903.97</text>
<text x="596.5" y="37.5" font-size="15.4" fill="#f23645" text-anchor="start" font-weight="normal" textLength="98.2" lengthAdjust="spacingAndGlyphs">−0.90 (−0.03%)</text>
<text x="22.8" y="59" font-size="15.4" fill="#131722" text-anchor="start" font-weight="normal" textLength="113.4" lengthAdjust="spacingAndGlyphs">MA (20, close, 0)</text>
<text x="22.8" y="80" font-size="15.4" fill="#131722" text-anchor="start" font-weight="normal" textLength="121" lengthAdjust="spacingAndGlyphs">MA (100, close, 0)</text>
<text x="22.8" y="101" font-size="15.4" fill="#131722" text-anchor="start" font-weight="normal" textLength="121" lengthAdjust="spacingAndGlyphs">MA (200, close, 0)</text>
<text x="22.8" y="122" font-size="15.4" fill="#131722" text-anchor="start" font-weight="normal" textLength="113.4" lengthAdjust="spacingAndGlyphs">MA (55, close, 0)</text>
<text x="22.4" y="361.8" font-size="15.4" fill="#131722" text-anchor="start" font-weight="normal" textLength="107.2" lengthAdjust="spacingAndGlyphs">Mom (10, close)</text>
<text x="138.4" y="361.8" font-size="15.4" fill="#2196f3" text-anchor="start" font-weight="normal" textLength="37.8" lengthAdjust="spacingAndGlyphs">28.28</text>
<text x="22.6" y="474.6" font-size="15.4" fill="#131722" text-anchor="start" font-weight="normal" textLength="52" lengthAdjust="spacingAndGlyphs">RSI (14)</text>
<text x="83.3" y="474.6" font-size="15.4" fill="#7e57c2" text-anchor="start" font-weight="normal" textLength="37.4" lengthAdjust="spacingAndGlyphs">62.24</text>
<text x="1576" y="26.8" font-size="15.6" fill="#131722" text-anchor="start" font-weight="normal" textLength="53" lengthAdjust="spacingAndGlyphs">3000.00</text>
<text x="1576" y="70.8" font-size="15.6" fill="#131722" text-anchor="start" font-weight="normal" textLength="53" lengthAdjust="spacingAndGlyphs">2950.00</text>
<text x="1576" y="156.8" font-size="15.6" fill="#131722" text-anchor="start" font-weight="normal" textLength="53" lengthAdjust="spacingAndGlyphs">2850.00</text>
<text x="1576" y="200.1" font-size="15.6" fill="#131722" text-anchor="start" font-weight="normal" textLength="53" lengthAdjust="spacingAndGlyphs">2800.00</text>
<text x="1576" y="243.5" font-size="15.6" fill="#131722" text-anchor="start" font-weight="normal" textLength="53" lengthAdjust="spacingAndGlyphs">2750.00</text>
<text x="1576" y="286.8" font-size="15.6" fill="#131722" text-anchor="start" font-weight="normal" textLength="53" lengthAdjust="spacingAndGlyphs">2700.00</text>
<text x="1576" y="330.1" font-size="15.6" fill="#131722" text-anchor="start" font-weight="normal" textLength="53" lengthAdjust="spacingAndGlyphs">2650.00</text>
<text x="1576" y="369.9" font-size="15.6" fill="#131722" text-anchor="start" font-weight="normal" textLength="38" lengthAdjust="spacingAndGlyphs">50.00</text>
<text x="1576" y="466.6" font-size="15.6" fill="#131722" text-anchor="start" font-weight="normal" textLength="38" lengthAdjust="spacingAndGlyphs">80.00</text>
<text x="1576" y="563.6" font-size="15.6" fill="#131722" text-anchor="start" font-weight="normal" textLength="38" lengthAdjust="spacingAndGlyphs">40.00</text>
<text x="1576" y="412.7" font-size="15.6" fill="#131722" text-anchor="start" font-weight="normal" textLength="30" lengthAdjust="spacingAndGlyphs">0.00</text>
<text x="108.2" y="618.4" font-size="15.6" fill="#131722" text-anchor="start" font-weight="normal" textLength="16" lengthAdjust="spacingAndGlyphs">27</text>
<text x="368.2" y="618.4" font-size="15.6" fill="#131722" text-anchor="start" font-weight="normal" textLength="8" lengthAdjust="spacingAndGlyphs">7</text>
<text x="482.2" y="618.4" font-size="15.6" fill="#131722" text-anchor="start" font-weight="normal" textLength="16" lengthAdjust="spacingAndGlyphs">10</text>
<text x="606.2" y="618.4" font-size="15.6" fill="#131722" text-anchor="start" font-weight="normal" textLength="16" lengthAdjust="spacingAndGlyphs">15</text>
<text x="724.2" y="618.4" font-size="15.6" fill="#131722" text-anchor="start" font-weight="normal" textLength="16" lengthAdjust="spacingAndGlyphs">19</text>
<text x="849.2" y="618.4" font-size="15.6" fill="#131722" text-anchor="start" font-weight="normal" textLength="16" lengthAdjust="spacingAndGlyphs">23</text>
<text x="973.2" y="618.4" font-size="15.6" fill="#131722" text-anchor="start" font-weight="normal" textLength="16" lengthAdjust="spacingAndGlyphs">28</text>
<text x="1126.05" y="618.4" font-size="15.6" fill="#131722" text-anchor="start" font-weight="normal" textLength="24.3" lengthAdjust="spacingAndGlyphs">Feb</text>
<text x="1259.2" y="618.4" font-size="15.6" fill="#131722" text-anchor="start" font-weight="normal" textLength="8" lengthAdjust="spacingAndGlyphs">6</text>
<text x="1379.2" y="618.4" font-size="15.6" fill="#131722" text-anchor="start" font-weight="normal" textLength="16" lengthAdjust="spacingAndGlyphs">11</text>
<text x="1497.2" y="618.4" font-size="15.6" fill="#131722" text-anchor="start" font-weight="normal" textLength="16" lengthAdjust="spacingAndGlyphs">14</text>
<text x="241.2" y="618.4" font-size="15.6" fill="#131722" text-anchor="middle" font-weight="bold">2025</text>
<text x="41.9" y="657.8" font-size="15.7" fill="#131722" text-anchor="start" font-weight="normal" textLength="87.6" lengthAdjust="spacingAndGlyphs">TradingView</text>
<path d="M1566,94 H1634 a2,2 0 0 1 2,2 V113 a2,2 0 0 1 -2,2 H1566 Z" fill="#f23645"/>
<path d="M1566,373 H1618 a2,2 0 0 1 2,2 V392 a2,2 0 0 1 -2,2 H1566 Z" fill="#2196f3"/>
<path d="M1566,494 H1618 a2,2 0 0 1 2,2 V513 a2,2 0 0 1 -2,2 H1566 Z" fill="#7e57c2"/>
<g stroke="#ffffff" stroke-width="0.35">
<text x="1575.4" y="110.2" font-size="15.6" fill="#ffffff" text-anchor="start" font-weight="normal" textLength="53" lengthAdjust="spacingAndGlyphs">2903.97</text>
<text x="1575.4" y="389.2" font-size="15.6" fill="#ffffff" text-anchor="start" font-weight="normal" textLength="38" lengthAdjust="spacingAndGlyphs">28.28</text>
<text x="1575.4" y="510.4" font-size="15.6" fill="#ffffff" text-anchor="start" font-weight="normal" textLength="38" lengthAdjust="spacingAndGlyphs">62.24</text>
</g>
<g fill="#131722">
<path d="M13.1,645.8 H22.8 V657.7 H17.95 V650.3 H13.1 Z"/>
<circle cx="26.85" cy="648.35" r="2.55"/>
<path d="M31.9,645.8 H37.2 L32.7,657.7 H27.0 Z"/>
</g>
</svg>
</body></html>
